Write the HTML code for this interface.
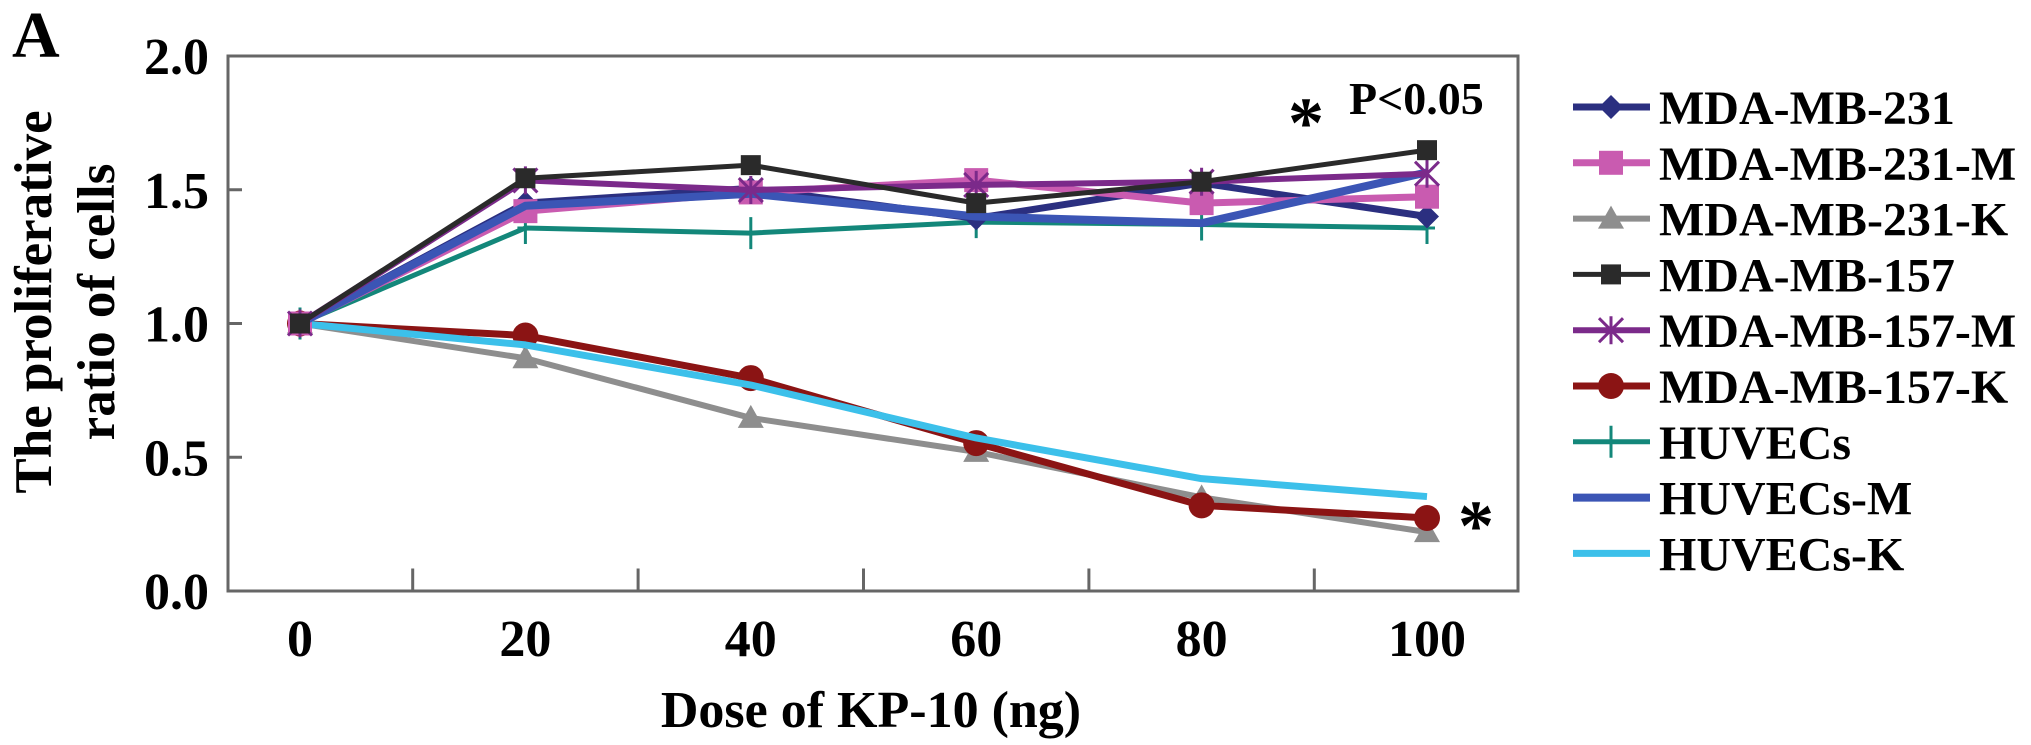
<!DOCTYPE html>
<html><head><meta charset="utf-8">
<style>
html,body{margin:0;padding:0;background:#fff;}
svg{display:block;}
svg text{font-family:"Liberation Serif","DejaVu Serif",serif;font-weight:bold;}
</style></head>
<body>
<svg id="chart" width="2031" height="745" viewBox="0 0 2031 745" xmlns="http://www.w3.org/2000/svg" font-family="Liberation Serif, DejaVu Serif, serif" font-weight="bold">
<text x="12" y="57" font-size="66">A</text>
<g font-size="53" text-anchor="middle">
<text transform="translate(51,302) rotate(-90)">The proliferative</text>
<text transform="translate(114,302) rotate(-90)">ratio of cells</text>
</g>
<text x="871" y="727" font-size="52" text-anchor="middle">Dose of KP-10 (ng)</text>
<rect x="228" y="56" width="1290" height="535" fill="none" stroke="#666" stroke-width="3"/>
<g id="axes"></g>
<g id="series"></g>
<text x="1349" y="114" font-size="46">P&lt;0.05</text>
<text x="1306" y="147" font-size="72" text-anchor="middle">*</text>
<text x="1476" y="550" font-size="72" text-anchor="middle">*</text>
<g id="legend"></g>
</svg>
<script>
const doses = [0, 20, 40, 60, 80, 100];
const xTicks = ["0","20","40","60","80","100"];
const yTicks = ["0.0","0.5","1.0","1.5","2.0"];
const seriesNames = ["MDA-MB-231","MDA-MB-231-M","MDA-MB-231-K","MDA-MB-157","MDA-MB-157-M","MDA-MB-157-K","HUVECs","HUVECs-M","HUVECs-K"];
const mda231 = [1.0, 1.45, 1.505, 1.393, 1.525, 1.40];
const mda231M = [1.0, 1.42, 1.49, 1.536, 1.45, 1.474];
const mda231K = [1.0, 0.87, 0.647, 0.52, 0.35, 0.22];
const mda157 = [1.0, 1.543, 1.592, 1.45, 1.53, 1.648];
const mda157M = [1.0, 1.535, 1.499, 1.518, 1.53, 1.56];
const mda157K = [1.0, 0.955, 0.796, 0.553, 0.32, 0.273];
const huvec = [1.0, 1.357, 1.338, 1.379, 1.37, 1.357];
const huvecM = [1.0, 1.44, 1.485, 1.40, 1.375, 1.565];
const huvecK = [1.0, 0.92, 0.77, 0.572, 0.42, 0.353];

const NS="http://www.w3.org/2000/svg";
const X = d => 300 + (1427-300) * d / 100;
const Y = v => 591 - 267.5 * v;
function mk(tag, attrs, parent){const e=document.createElementNS(NS,tag);for(const k in attrs)e.setAttribute(k,attrs[k]);parent.appendChild(e);return e;}

const axes=document.getElementById('axes');
yTicks.forEach(t=>{
  const v=parseFloat(t), y=Y(v);
  const l=mk('line',{x1:228,x2:242,y1:y,y2:y,stroke:'#666','stroke-width':3},axes);
  
  
  const tx=mk('text',{x:209,y:y+18,'font-size':52,'text-anchor':'end'},axes);
  tx.textContent=t;
  
  
});
xTicks.forEach(t=>{
  const d=parseFloat(t);
  const tx=mk('text',{x:X(d),y:656,'font-size':52,'text-anchor':'middle'},axes);
  tx.textContent=t;
  
  
  if(d<100){
    const m=d+10;
    const l=mk('line',{x1:X(m),x2:X(m),y1:591,y2:570,stroke:'#666','stroke-width':3,'stroke-linecap':'square'},axes);
    
    
  }
});

const colors=["#2b2f80","#c95bb0","#8e8e8e","#2a2a2a","#7b2a8a","#8b1414","#13877a","#3b55b5","#3cc0ea"];
const markers=["diamond","square","triangle","smallsquare","star","circle","plus","none","none"];
const widths=[7,7,6,5,6,7,5,8,7];
const values=[mda231,mda231M,mda231K,mda157,mda157M,mda157K,huvec,huvecM,huvecK];
const order=[2,5,8,6,0,1,7,4,3];

function marker(kind,x,y,c,g){
  let e=null;
  if(kind==='diamond') e=mk('polygon',{points:`${x},${y-12} ${x+12},${y} ${x},${y+12} ${x-12},${y}`,fill:c},g);
  else if(kind==='square') e=mk('rect',{x:x-12,y:y-12,width:24,height:24,fill:c},g);
  else if(kind==='smallsquare') e=mk('rect',{x:x-10,y:y-10,width:20,height:20,fill:c},g);
  else if(kind==='triangle') e=mk('polygon',{points:`${x},${y-13} ${x+13},${y+10} ${x-13},${y+10}`,fill:c},g);
  else if(kind==='circle') e=mk('circle',{cx:x,cy:y,r:13,fill:c},g);
  else if(kind==='star') e=mk('path',{d:`M${x-12},${y-12}L${x+12},${y+12}M${x+12},${y-12}L${x-12},${y+12}M${x},${y-14}L${x},${y+14}`,stroke:c,'stroke-width':3,fill:'none'},g);
  else if(kind==='plus') e=mk('path',{d:`M${x},${y-16}L${x},${y+16}M${x-8},${y}L${x+8},${y}`,stroke:c,'stroke-width':3,fill:'none'},g);
  if(e){
    
    
  }
}

const sg=document.getElementById('series');
order.forEach(i=>{
  const g=mk('g',{},sg);
  
  
  const pts=doses.map((d,j)=>X(d)+','+Y(values[i][j])).join(' ');
  const pl=mk('polyline',{points:pts,fill:'none',stroke:colors[i],'stroke-width':widths[i],'stroke-linejoin':'round'},g);
  
  
  doses.forEach((d,j)=>marker(markers[i],X(d),Y(values[i][j]),colors[i],g));
});

const lg=document.getElementById('legend');
seriesNames.forEach((n,i)=>{
  const y=107+55.8*i;
  const g=mk('g',{},lg);
  
  
  mk('line',{x1:1573,x2:1650,y1:y,y2:y,stroke:colors[i],'stroke-width':widths[i]},g);
  marker(markers[i],1611,y,colors[i],g);
  const t=mk('text',{x:1659,y:y+17,'font-size':48},g);
  t.textContent=n;
});
</script>
</body></html>
